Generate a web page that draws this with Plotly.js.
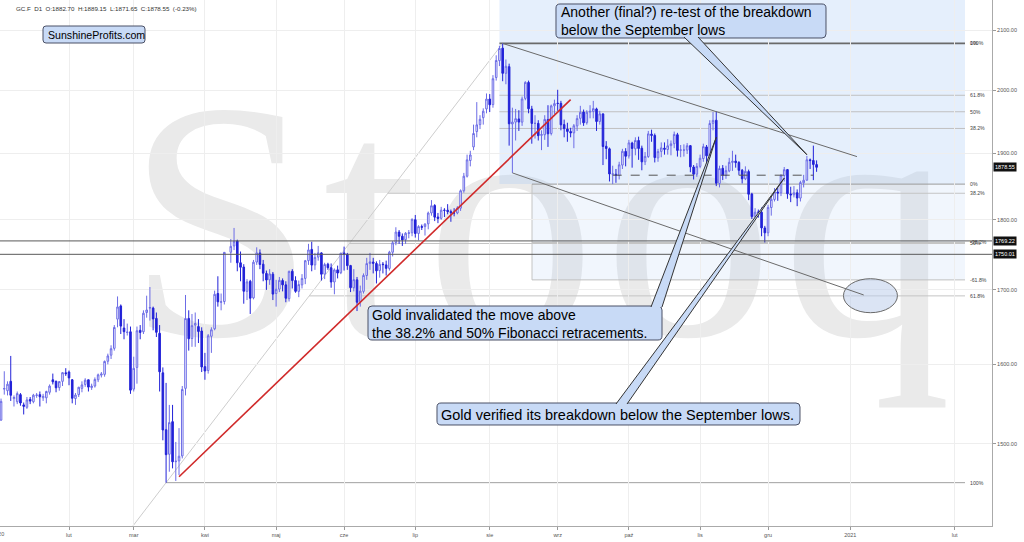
<!DOCTYPE html>
<html>
<head>
<meta charset="utf-8">
<script src="https://cdn.plot.ly/plotly-3.0.1.min.js"></script>
<style>
html,body{margin:0;padding:0;background:#ffffff;overflow:hidden;}
#wrap{position:relative;width:1024px;height:542px;}
#wm{position:absolute;left:0;top:0;}
#chart{position:absolute;left:0;top:0;width:1024px;height:542px;}
</style>
</head>
<body>
<div id="wrap">
<svg id="wm" width="1024" height="542" xmlns="http://www.w3.org/2000/svg">
<text x="126" y="335" font-family="'Liberation Serif','DejaVu Serif',serif" font-size="340" letter-spacing="8" fill="#eaeaea">Stooq</text>
</svg>
<div id="chart"></div>
</div>
<script>
// ---------- DATA (GC.F daily, 2020-01-02 .. 2020-12-22) ----------
const symbol = 'GC.F';
const interval = 'D1';
const tradingStart = '2020-01-02';
const holidays = ['2020-04-10'];

const open = [
 1523,1529,1568,1566,1578,1556,1552,1561,1548,1545,1555,1552,1560,1561,1557,1557,1564,1580,1578,1570,1578,1589,
 1590,1580,1556,1561,1569,1574,1580,1570,1572,1580,1586,1587,1604,1612,1621,1660,1678,1648,1642,1643,
 1568,1596,1645,1643,1669,1675,1675,1661,1641,1589,1517,1487,1527,1478,1479,1485,1569,1661,1634,1652,1650,1644,
 1597,1592,1637,1647,1695,1683,1684,1753,1762,1769,1738,1732,1698,1712,1689,1739,1752,1736,1723,1714,1722,
 1695,1701,1713,1707,1688,1726,1713,1698,1707,1716,1741,1757,1735,1746,1752,1722,1736,1731,1711,1728,1724,
 1752,1750,1734,1703,1714,1684,1698,1720,1737,1739,1737,1727,1736,1735,1730,1753,1767,1782,1776,1771,1780,1781,
 1800,1780,1790,1790,1794,1810,1821,1804,1802,1814,1814,1812,1810,1810,1817,1843,1865,1889,1910,1934,1945,1956,1970,
 1986,1977,2021,2049,2070,2028,2039,1946,1949,1954,1949,1987,2013,1970,1947,1947,1928,1929,1953,1931,1975,
 1979,1979,1945,1938,1934,1932,1943,1955,1965,1948,1965,1966,1970,1950,1962,1911,1907,1868,1868,1866,1882,1903,
 1896,1916,1907,1920,1908,1887,1895,1930,1928,1893,1903,1908,1906,1912,1915,1929,1905,1905,1905,1912,1879,1868,
 1880,1892,1910,1896,1947,1952,1854,1877,1866,1873,1886,1888,1886,1874,1861,1872,1838,1805,1811,1811,1788,
 1781,1818,1830,1841,1840,1866,1875,1838,1837,1840,1832,1855,1859,1890,1889,1882.70
];
const high = [
 1532,1556,1591,1578,1611,1560,1565,1563,1551,1558,1558,1562,1563,1565,1562,1566,1574,1588,1579,1578,1590,1595,
 1592,1581,1563,1571,1578,1582,1580,1575,1583,1588,1590,1605,1614,1625,1652,1691,1680,1660,1654,1650,
 1610,1650,1652,1672,1692,1704,1677,1669,1652,1596,1576,1548,1548,1502,1519,1572,1693,1672,1667,1669,1660,1649,
 1615,1640,1649,1699,1719,1695,1753,1772,1788,1771,1754,1736,1715,1714,1742,1760,1757,1742,1727,1729,1725,
 1714,1718,1716,1712,1727,1729,1719,1713,1722,1742,1765,1768,1752,1762,1753,1738,1738,1737,1730,1734,1752,
 1761,1752,1735,1729,1718,1706,1723,1745,1752,1745,1740,1742,1739,1741,1755,1769,1789,1785,1780,1782,1785,1802,
 1807,1792,1793,1795,1812,1829,1823,1810,1819,1817,1823,1815,1817,1820,1845,1870,1898,1904,1945,1981,1960,1971,1995,
 1994,2025,2058,2074,2078,2051,2044,1972,1970,1968,1990,2015,2016,1975,1960,1952,1936,1960,1976,1977,1985,
 2001,1983,1953,1948,1940,1946,1960,1975,1969,1968,1976,1983,1972,1967,1963,1919,1909,1881,1876,1887,1907,1908,
 1921,1918,1925,1926,1912,1902,1935,1937,1931,1907,1917,1917,1922,1920,1934,1932,1913,1914,1916,1913,1882,1885,
 1898,1915,1913,1952,1965,1966,1881,1882,1881,1893,1904,1898,1888,1876,1880,1875,1840,1817,1815,1818,1791,
 1822,1835,1847,1848,1868,1879,1876,1849,1850,1845,1858,1867,1896,1892,1912,1889.15
];
const low = [
 1518,1528,1561,1560,1553,1546,1549,1547,1536,1543,1549,1550,1557,1546,1553,1550,1561,1574,1564,1566,1572,1585,
 1573,1550,1548,1558,1564,1571,1565,1567,1570,1577,1583,1584,1600,1607,1618,1649,1640,1633,1638,1562,
 1565,1575,1633,1640,1662,1658,1645,1636,1565,1504,1453,1466,1470,1455,1462,1482,1560,1618,1623,1623,1628,1590,
 1580,1588,1615,1645,1677,1672,1680,1738,1756,1726,1712,1681,1686,1667,1687,1735,1729,1712,1700,1707,1686,
 1677,1697,1698,1683,1684,1702,1696,1690,1702,1708,1735,1726,1728,1741,1713,1715,1728,1703,1694,1716,1722,
 1727,1728,1697,1698,1671,1677,1695,1714,1728,1723,1709,1717,1723,1720,1727,1747,1763,1765,1762,1765,1773,1776,
 1774,1770,1785,1777,1786,1806,1798,1795,1800,1804,1808,1797,1805,1808,1813,1840,1863,1880,1905,1925,1938,1945,1963,
 1965,1972,2016,2040,2015,2010,1912,1870,1920,1935,1943,1984,1963,1915,1923,1920,1905,1921,1910,1928,1962,
 1967,1936,1925,1918,1925,1908,1935,1945,1943,1945,1955,1955,1935,1945,1882,1891,1857,1853,1855,1860,1876,1880,
 1892,1878,1897,1890,1874,1882,1893,1918,1886,1887,1894,1898,1898,1897,1908,1895,1894,1895,1899,1871,1860,1864,
 1877,1887,1879,1893,1936,1850,1848,1859,1861,1871,1873,1878,1867,1854,1859,1829,1801,1800,1803,1776,1767,
 1776,1806,1827,1828,1835,1857,1831,1826,1833,1820,1827,1848,1858,1876,1859,1871.65
];
const close = [
 1528.1,1552.4,1568.8,1574.3,1560.2,1557.4,1562.3,1550.4,1546.2,1554.3,1552.8,1560.3,1560.5,1558.3,1558.8,1565.0,1571.9,1577.4,1569.7,1577.7,1589.2,1587.9,
 1582.4,1556.4,1560.5,1570.4,1573.4,1579.5,1570.6,1571.8,1580.4,1586.4,1587.5,1603.8,1611.0,1620.5,1648.8,1676.6,1650.6,1643.1,1642.5,1566.7,
 1594.8,1644.4,1642.1,1668.0,1672.4,1675.7,1660.3,1642.3,1590.3,1516.7,1486.5,1525.8,1477.9,1478.6,1484.6,1567.6,1660.8,1633.7,1651.3,1654.1,1643.4,1596.6,
 1591.4,1637.7,1645.7,1693.9,1683.6,1683.6,1752.8,1761.4,1768.7,1738.0,1731.7,1698.1,1711.2,1688.5,1738.8,1752.0,1735.6,1723.3,1713.8,1722.3,1694.2,
 1700.9,1713.3,1707.0,1688.5,1725.8,1713.0,1698.0,1707.4,1715.9,1740.9,1756.3,1734.7,1745.6,1752.1,1721.9,1735.5,1731.0,1711.0,1727.9,1723.5,1751.7,
 1750.3,1734.0,1703.1,1714.3,1683.0,1698.3,1720.2,1736.9,1739.3,1737.3,1726.6,1735.8,1735.4,1730.1,1753.0,1766.5,1782.0,1775.9,1770.6,1780.3,1781.0,1800.5,
 1779.9,1790.0,1789.0,1793.5,1809.9,1820.6,1803.8,1801.9,1814.1,1813.8,1812.0,1810.4,1810.0,1817.4,1843.0,1865.0,1890.0,1897.5,1931.0,1944.6,1953.4,1966.4,1985.9,
 1976.7,2019.1,2049.3,2069.4,2028.0,2039.7,1946.3,1949.0,1954.4,1949.0,1986.0,2013.1,1970.3,1946.9,1947.0,1927.6,1929.3,1953.3,1930.5,1974.9,1978.6,
 1978.9,1944.7,1938.6,1934.3,1932.0,1943.2,1954.6,1964.6,1947.9,1964.8,1966.2,1970.5,1949.9,1962.1,1910.6,1907.6,1868.4,1868.4,1866.3,1882.3,1903.2,1895.5,
 1916.3,1907.6,1920.1,1907.6,1886.9,1895.3,1930.4,1928.0,1893.5,1902.8,1908.5,1906.4,1911.7,1914.8,1929.5,1904.6,1905.2,1905.2,1911.8,1879.2,1868.0,1879.9,
 1892.5,1910.4,1896.2,1946.8,1951.7,1854.4,1876.6,1866.3,1873.4,1886.2,1887.8,1885.8,1873.9,1861.0,1872.4,1837.8,1804.6,1811.1,1811.0,1788.1,1780.9,
 1818.1,1830.2,1841.1,1839.6,1866.1,1874.9,1838.5,1836.8,1839.8,1832.1,1855.3,1858.8,1890.1,1888.9,1882.9,1878.55
];

const monthTickDates = ['2020-02-01','2020-03-01','2020-04-01','2020-05-01','2020-06-01','2020-07-01','2020-08-01','2020-09-01','2020-10-01','2020-11-01','2020-12-01','2021-01-01','2021-02-01'];
const monthTickLabels = ['lut','mar','kwi','maj','cze','lip','sie','wrz','paź','lis','gru','2021','lut'];
const firstTick = {date:'2020-01-02', label:'2020'};
const priceTicks = [1500,1600,1700,1800,1900,2000,2100];

const hLevels = [1769.22, 1750.01];
const septLow = 1866.5;
const fib1 = {date:'2020-08-06', high:2078, low:1853, levels:[1,0.618,0.5,0.382,0,-0.382,-0.618]};
const fib2 = {lowDate:'2020-03-16', highDate:'2020-08-07', high:2078, low:1453, levels:[0,0.382,0.5,0.618,1]};
const redLine = {d0:'2020-03-20', p0:1460, d1:'2020-09-07', p1:1985};
const upperChannel = {d0:'2020-08-07', p0:2078, d1:'2021-01-03', p1:1895};
const lowerChannel = {d0:'2020-08-12', p0:1870, d1:'2021-01-05', p1:1693};
const septLine = {d0:'2020-09-24', d1:'2020-12-21'};
const target = {date:'2021-01-07', price:1692};

// ---------- dates / index mapping ----------
const DAY = 864e5;
function ts(s){const a=s.split('-').map(Number);return Date.UTC(a[0],a[1]-1,a[2]);}
const T0 = ts('2020-01-01');
function wd(t){let n=0;for(let d=T0;d<t;d+=DAY){const w=new Date(d).getUTCDay();if(w>0&&w<6)n++;}return n;}
const dates=[];
(function(){let d=ts(tradingStart);while(dates.length<close.length){const w=new Date(d).getUTCDay();const s=new Date(d).toISOString().slice(0,10);if(w>0&&w<6&&holidays.indexOf(s)<0)dates.push(s);d+=DAY;}})();
const lastT = ts(dates[dates.length-1]);
const lastIdx = wd(lastT);
const FUT = 1.04;
function X(s){const t=ts(s);return t<=lastT?wd(t):lastIdx+(t-lastT)/DAY*FUT;}
const xs = dates.map(X);

// ---------- layout geometry ----------
const W=992, H=526;
const xr=[1.68, 308.2];
const yr=[Math.log10(1402.6), Math.log10(2152.8)];
const pxX=i=>(i-xr[0])/(xr[1]-xr[0])*W;
const pxY=p=>(1-(Math.log10(p)-yr[0])/(yr[1]-yr[0]))*H;
const fx=x=>x/W, fy=y=>1-y/H;
const shapes=[], ann=[];
const FONT='Liberation Sans, Arial, sans-serif';

function seg(x0,y0,x1,y1,color,width,dash,layer){shapes.push({type:'line',xref:'paper',yref:'paper',x0:fx(x0),y0:fy(y0),x1:fx(x1),y1:fy(y1),line:{color:color,width:width,dash:dash||'solid'},layer:layer||'above'});}
function rect(x0,y0,x1,y1,fill,layer){shapes.push({type:'rect',xref:'paper',yref:'paper',x0:fx(x0),y0:fy(y0),x1:fx(x1),y1:fy(y1),fillcolor:fill,line:{width:0},layer:layer||'below'});}
function P(x,y){return fx(x).toFixed(5)+','+fy(y).toFixed(5);}
function rbox(x0,y0,x1,y1,r,fill,lc){
  const path='M'+P(x0+r,y0)+' L'+P(x1-r,y0)+' Q'+P(x1,y0)+' '+P(x1,y0+r)+' L'+P(x1,y1-r)+' Q'+P(x1,y1)+' '+P(x1-r,y1)+' L'+P(x0+r,y1)+' Q'+P(x0,y1)+' '+P(x0,y1-r)+' L'+P(x0,y0+r)+' Q'+P(x0,y0)+' '+P(x0+r,y0)+' Z';
  shapes.push({type:'path',xref:'paper',yref:'paper',path:path,fillcolor:fill,line:{color:lc,width:1},layer:'above'});
}
function wedge(bx0,by0,bx1,by1,tx,ty,fill,lc){
  shapes.push({type:'path',xref:'paper',yref:'paper',path:'M'+P(bx0,by0)+' L'+P(tx,ty)+' L'+P(bx1,by1)+' Z',fillcolor:fill,line:{width:0},layer:'above'});
  seg(bx0,by0,tx,ty,lc,1);seg(bx1,by1,tx,ty,lc,1);
}
function txt(x,y,s,size,color,anchor,extra){const a={xref:'paper',yref:'paper',x:fx(x),y:fy(y),text:s,showarrow:false,xanchor:anchor||'left',yanchor:'middle',align:'left',borderpad:0,font:{family:FONT,size:size,color:color}};if(extra)Object.assign(a,extra);ann.push(a);}

// shaded fib zones
const FR=965, LX=969;
const xA=pxX(X(fib1.date));
const xB=532;
const f1ext=fib1.low-0.618*(fib1.high-fib1.low);
rect(xA,0,FR,pxY(fib1.low),'rgba(170,202,245,0.30)','below');
rect(xB,pxY(fib1.low),FR,pxY(f1ext),'rgba(170,202,245,0.16)','below');
seg(xB,pxY(fib1.low),xB,pxY(f1ext),'#c4c4c4',1,'solid','below');

// fib set 1
fib1.levels.forEach(function(lv){
  const p=fib1.low+lv*(fib1.high-fib1.low);
  const x0=lv>0?xA:xB;
  const col=lv===1?'#6a6a6a':(lv===0?'#9a9a9a':'#c0c0c0');
  seg(x0,pxY(p),FR,pxY(p),col,lv===1?1.8:1,'solid','below');
  txt(LX,pxY(p),(Math.round(lv*1000)/10)+'%',5.2,'#444');
});
// fib set 2 (from diagonal)
const i0=X(fib2.lowDate), i1=X(fib2.highDate);
const lL=Math.log10(fib2.low), lH=Math.log10(fib2.high);
function diagIdx(p){return i0+(Math.log10(p)-lL)/(lH-lL)*(i1-i0);}
seg(pxX(diagIdx(Math.pow(10,yr[0]))),H,pxX(i1),pxY(fib2.high),'#cdcdcd',1,'solid','below');
fib2.levels.forEach(function(lv){
  const p=fib2.high-lv*(fib2.high-fib2.low);
  if(lv>0) seg(pxX(diagIdx(p)),pxY(p),FR,pxY(p),lv===1?'#a0a0a0':'#c4c4c4',1,'solid','below');
  txt(LX,pxY(p),(Math.round(lv*1000)/10)+'%',5.2,'#444');
});

// horizontal price levels
hLevels.forEach(function(p){
  seg(0,pxY(p),W,pxY(p),'#5a5a5a',1);
  ann.push({xref:'paper',yref:'paper',x:1,y:fy(pxY(p)),xanchor:'left',yanchor:'middle',xshift:1,text:p.toFixed(2),showarrow:false,bgcolor:'#111',borderpad:1,font:{family:FONT,size:5.5,color:'#fff'}});
});
const lastClose=close[close.length-1];
ann.push({xref:'paper',yref:'paper',x:1,y:fy(pxY(lastClose)),xanchor:'left',yanchor:'middle',xshift:1,text:lastClose.toFixed(2),showarrow:false,bgcolor:'#111',borderpad:1,font:{family:FONT,size:5.5,color:'#fff'}});

// dashed september-low line
seg(pxX(X(septLine.d0)),pxY(septLow),pxX(X(septLine.d1)),pxY(septLow),'#555',1,'dash');
// red support line
seg(pxX(X(redLine.d0)),pxY(redLine.p0),pxX(X(redLine.d1)),pxY(redLine.p1),'#d02a2a',1.6);
// ellipse target
const ex=pxX(X(target.date)), ey=pxY(target.price);
shapes.push({type:'circle',xref:'paper',yref:'paper',x0:fx(ex-27),x1:fx(ex+27),y0:fy(ey+17),y1:fy(ey-17),fillcolor:'rgba(190,205,235,0.55)',line:{color:'#6a6a6a',width:1},layer:'above'});
// channel lines
seg(pxX(X(upperChannel.d0)),pxY(upperChannel.p0),pxX(X(upperChannel.d1)),pxY(upperChannel.p1),'#6a6a6a',1);
seg(pxX(X(lowerChannel.d0)),pxY(lowerChannel.p0),pxX(X(lowerChannel.d1)),pxY(lowerChannel.p1),'#6a6a6a',1);

// callouts
const BF='#c8daf6', BL='#4a5066';
rbox(556,4,826,38,4,BF,BL);
wedge(684,37,698,37,pxX(X('2020-12-17')),pxY(1898),BF,'#333');
txt(560,21.5,'Another (final?) re-test of the breakdown<br>below the September lows',14,'#000');

rbox(368,306,662,340,4,BF,BL);
wedge(651,307,662,307,pxX(X('2020-11-09')),pxY(1925),BF,'#333');
txt(371,323.5,'Gold invalidated the move above<br>the 38.2% and 50% Fibonacci retracements.',14,'#000');

rbox(437,403,800,425,4,BF,BL);
wedge(616,404,627,404,pxX(X('2020-12-08')),pxY(1862),BF,'#333');
txt(440,414.5,'Gold verified its breakdown below the September lows.',14.5,'#000');

rbox(43,26,145,43,3,BF,BL);
txt(47,34.8,'SunshineProfits.com',10.6,'#000');

// header
const n=close.length;
const pct=((close[n-1]/close[n-2]-1)*100).toFixed(2);
const sp='\u00a0 ';
txt(15,8,symbol+sp+interval+sp+'O:'+open[n-1].toFixed(2)+sp+'H:'+high[n-1].toFixed(2)+sp+'L:'+low[n-1].toFixed(2)+sp+'C:'+close[n-1].toFixed(2)+sp+'('+pct+'%)',6.2,'#333');

// first (clipped) year label
txt(pxX(X(firstTick.date)),534,firstTick.label,5.5,'#555','center');

const trace={
  type:'candlestick',x:xs,open:open,high:high,low:low,close:close,
  increasing:{line:{color:'#6c6ce6',width:1},fillcolor:'#ffffff'},
  decreasing:{line:{color:'#2222d8',width:1},fillcolor:'#2222d8'},
  whiskerwidth:0,hoverinfo:'skip',showlegend:false
};

const layout={
  width:1024,height:542,
  margin:{l:0,r:32,t:0,b:16,pad:0},
  paper_bgcolor:'rgba(0,0,0,0)',plot_bgcolor:'rgba(0,0,0,0)',
  font:{family:FONT,size:6,color:'#555'},
  showlegend:false,
  xaxis:{type:'linear',range:xr,tickmode:'array',tickvals:monthTickDates.map(X),ticktext:monthTickLabels,
    ticks:'outside',ticklen:3,tickcolor:'#999',tickfont:{family:FONT,size:5.5,color:'#555'},
    showgrid:true,gridcolor:'#eeeeee',gridwidth:1,showline:true,linecolor:'#aaaaaa',linewidth:1,zeroline:false,
    rangeslider:{visible:false},fixedrange:true},
  yaxis:{type:'log',range:yr,side:'right',tickmode:'array',tickvals:priceTicks,ticktext:priceTicks.map(v=>v.toFixed(2)),
    ticks:'outside',ticklen:3,tickcolor:'#999',tickfont:{family:FONT,size:5.5,color:'#555'},
    showgrid:true,gridcolor:'#eeeeee',gridwidth:1,showline:true,linecolor:'#aaaaaa',linewidth:1,zeroline:false,fixedrange:true},
  shapes:shapes,annotations:ann
};
Plotly.newPlot('chart',[trace],layout,{displayModeBar:false,staticPlot:true});
</script>
</body>
</html>
